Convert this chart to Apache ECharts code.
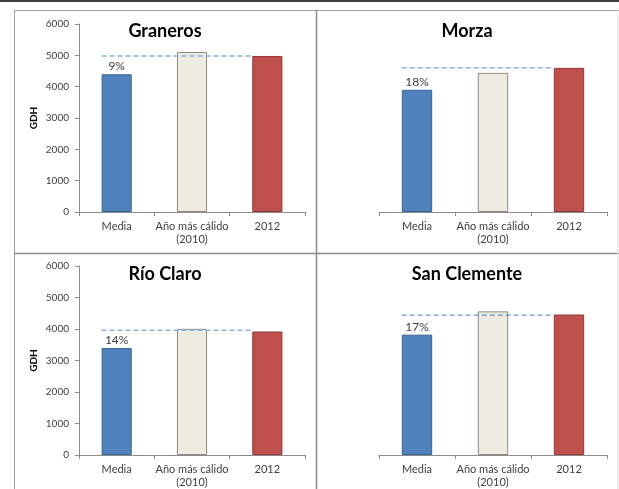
<!DOCTYPE html>
<html>
<head>
<meta charset="utf-8">
<script src="https://cdn.jsdelivr.net/npm/echarts@6/dist/echarts.min.js"></script>
<style>
  html, body { margin: 0; padding: 0; background: #fff; }
  #chart { width: 619px; height: 489px; }
</style>
</head>
<body>
<div id="chart"></div>
<script>
// Growing degree hours (GDH) per station
var stations   = ['Graneros', 'Morza', 'Río Claro', 'San Clemente'];
var categories = ['Media', 'Año más cálido\n(2010)', '2012'];
var mediaVals  = [4395, 3900, 3395, 3820];
var warmVals   = [5105, 4440, 4005, 4560];
var y2012Vals  = [4980, 4600, 3920, 4460];
var refLevels  = [4980, 4600, 3960, 4440];   // dashed reference line
var pctLabels  = ['9%', '18%', '14%', '17%'];
var yTicks     = [0, 1000, 2000, 3000, 4000, 5000, 6000];
var showYAxis  = [true, false, true, false];

var FONT = 'Lato, "Liberation Sans", sans-serif';
var barColors  = ['#4f81bd', '#eeece1', '#c0504d'];
var barBorders = ['#3b6594', '#8c8a80', '#8e3a38'];
var refColors  = ['#8db3e2', '#8db3e2', '#8db3e2', '#4a7ebb'];
var refWidths  = [1.5, 1.5, 1.5, 1];
var BAR_FRAC = 0.4;

var gridBoxes = [
  { left: 79,  top: 24,  width: 226, height: 188 },
  { left: 379, top: 24,  width: 228, height: 188 },
  { left: 79,  top: 266, width: 226, height: 190 },
  { left: 379, top: 266, width: 228, height: 190 }
];
var titlePos = [
  { x: 165, y: 22 }, { x: 467, y: 22 }, { x: 165, y: 265 }, { x: 467, y: 265 }
];

var grid = [], xAxis = [], yAxis = [], series = [], title = [];

stations.forEach(function (name, i) {
  grid.push(gridBoxes[i]);
  title.push({
    text: name, left: titlePos[i].x, top: titlePos[i].y, textAlign: 'center', padding: 0,
    textStyle: { fontFamily: FONT, fontSize: 18, fontWeight: 'bold', color: '#000' }
  });
  // category axis carrying the bars
  xAxis.push({
    type: 'category', gridIndex: i, data: categories,
    axisLine: { lineStyle: { color: '#8c8c8c', width: 1 } },
    axisTick: { show: true, length: 4, lineStyle: { color: '#8c8c8c' } },
    axisLabel: { interval: 0, color: '#404040', fontFamily: FONT, fontSize: 11, margin: 8, lineHeight: 13 }
  });
  // hidden linear axis used to place the reference line across the bars
  xAxis.push({ type: 'value', gridIndex: i, min: 0, max: categories.length, show: false });
  yAxis.push({
    type: 'value', gridIndex: i, min: yTicks[0], max: yTicks[yTicks.length - 1],
    interval: yTicks[1] - yTicks[0], show: showYAxis[i],
    name: showYAxis[i] ? 'GDH' : '', nameLocation: 'middle', nameGap: 40,
    nameTextStyle: { fontFamily: FONT, fontSize: 10, fontWeight: 'bold', color: '#000' },
    splitLine: { show: false },
    axisLine: { show: true, lineStyle: { color: '#8c8c8c', width: 1 } },
    axisTick: { show: true, length: 4, lineStyle: { color: '#8c8c8c' } },
    axisLabel: {
      color: '#404040', fontFamily: FONT, fontSize: 10, margin: 10,
      formatter: function (v) { return String(v); }
    }
  });
  var vals = [mediaVals[i], warmVals[i], y2012Vals[i]];
  series.push({
    type: 'bar', xAxisIndex: i * 2, yAxisIndex: i, barWidth: (BAR_FRAC * 100) + '%',
    data: vals.map(function (v, k) {
      return {
        value: v,
        itemStyle: { color: barColors[k], borderColor: barBorders[k], borderWidth: 1 },
        label: k === 0 ? {
          show: true, position: 'top', distance: 2, formatter: pctLabels[i],
          fontFamily: FONT, fontSize: 12, color: '#404040'
        } : { show: false }
      };
    }),
    silent: true, animation: false
  });
  series.push({
    type: 'line', xAxisIndex: i * 2 + 1, yAxisIndex: i, symbol: 'none', silent: true,
    animation: false, z: 5,
    lineStyle: { color: refColors[i], width: refWidths[i], type: [5, 3] },
    data: [[0.5 - BAR_FRAC / 2, refLevels[i]], [2.5 - BAR_FRAC / 2, refLevels[i]]]
  });
});

// page frame: dark top rule and the table grid around the four panels
var frame = [
  { type: 'rect', shape: { x: 0, y: 0, width: 619, height: 2 }, style: { fill: '#3f3f3f' } },
  { type: 'line', shape: { x1: 14, y1: 10.5, x2: 619, y2: 10.5 }, style: { stroke: '#a0a0a0', lineWidth: 1 } },
  { type: 'line', shape: { x1: 14.5, y1: 10, x2: 14.5, y2: 489 }, style: { stroke: '#a0a0a0', lineWidth: 1 } },
  { type: 'line', shape: { x1: 316.5, y1: 10, x2: 316.5, y2: 489 }, style: { stroke: '#8c8c8c', lineWidth: 1.5 } },
  { type: 'line', shape: { x1: 14, y1: 253.5, x2: 619, y2: 253.5 }, style: { stroke: '#8c8c8c', lineWidth: 1.5 } },
  { type: 'line', shape: { x1: 617.5, y1: 10, x2: 617.5, y2: 489 }, style: { stroke: '#e4e4e4', lineWidth: 1 } }
];

var chart = echarts.init(document.getElementById('chart'), null, { renderer: 'canvas' });
chart.setOption({
  animation: false,
  backgroundColor: '#ffffff',
  title: title,
  grid: grid,
  xAxis: xAxis,
  yAxis: yAxis,
  series: series,
  graphic: frame
});
</script>
</body>
</html>
